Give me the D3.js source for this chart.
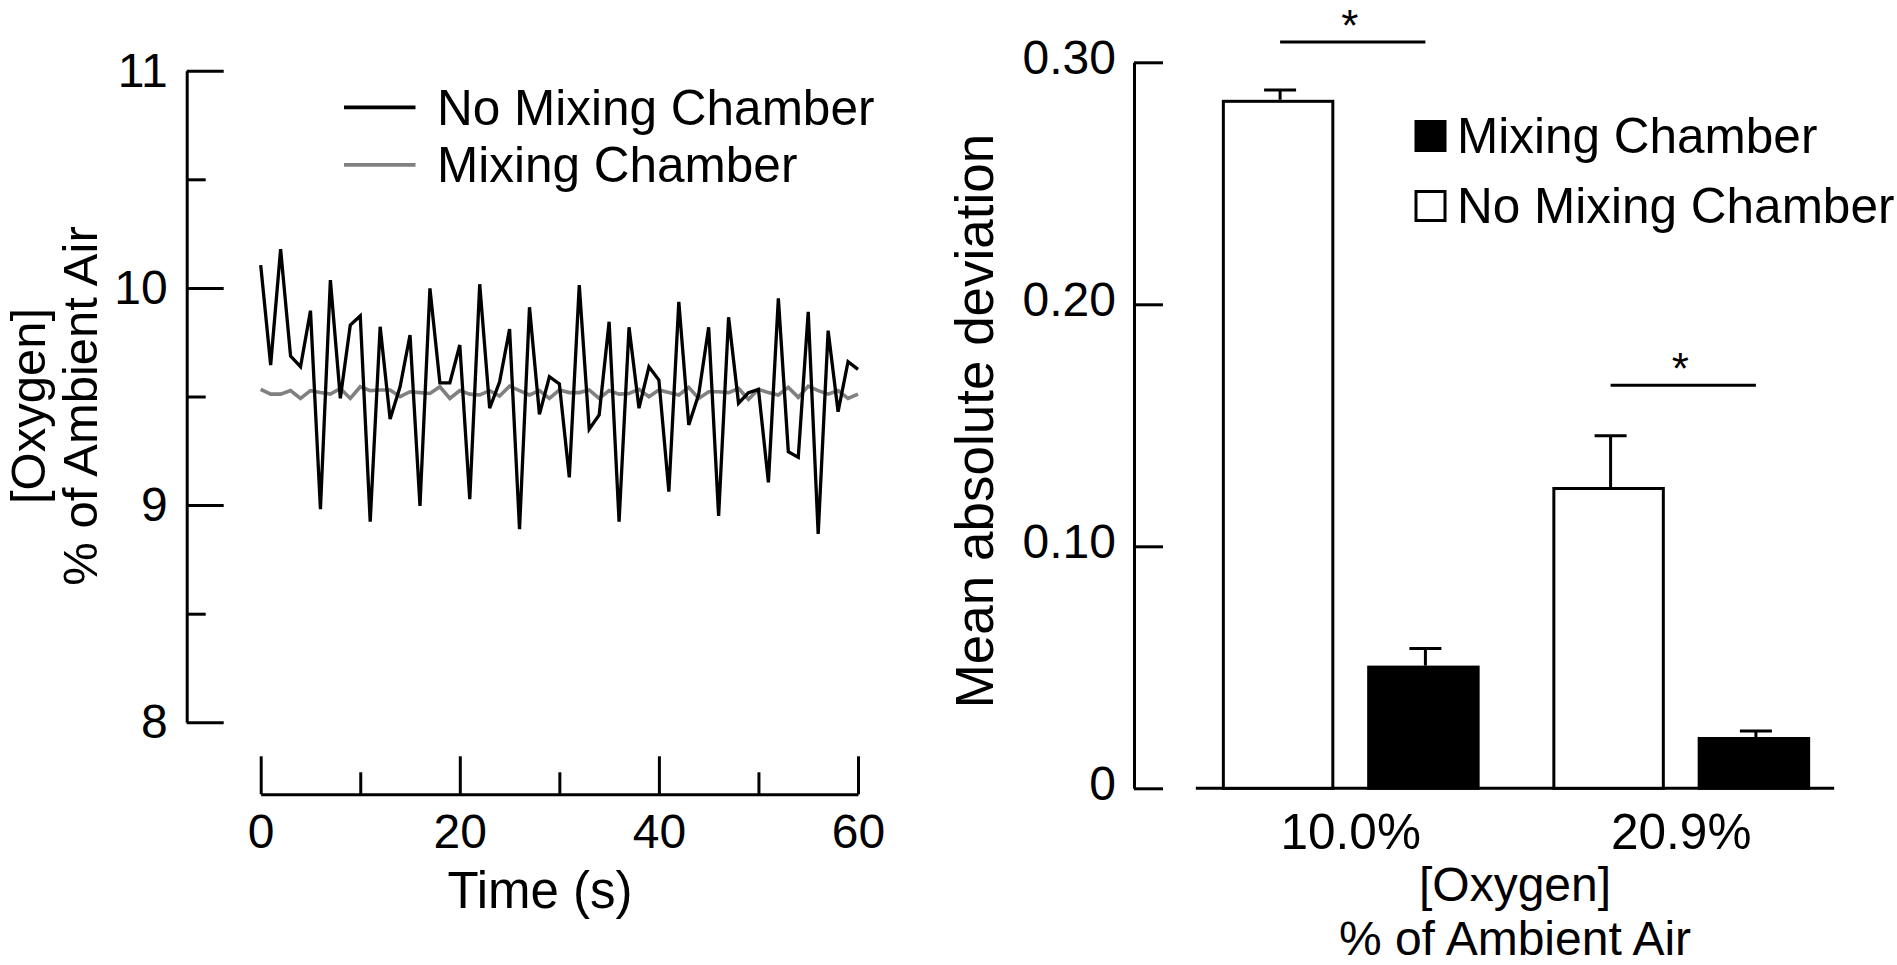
<!DOCTYPE html>
<html>
<head>
<meta charset="utf-8">
<script src="https://cdn.jsdelivr.net/npm/d3@7"></script>
<style>
  html, body { margin: 0; padding: 0; background: #fff; }
  svg { display: block; }
  text { font-family: "Liberation Sans", Arial, sans-serif; fill: #000; }
</style>
</head>
<body>
<svg id="chart" width="1897" height="965"></svg>
<script>
// ---------- DATA ----------
const timeSec = [0,1,2,3,4,5,6,7,8,9,10,11,12,13,14,15,16,17,18,19,20,21,22,23,24,25,26,27,28,29,30,
                 31,32,33,34,35,36,37,38,39,40,41,42,43,44,45,46,47,48,49,50,51,52,53,54,55,56,57,58,59,60];
const noMixingO2 = [10.105,9.645,10.178,9.686,9.637,9.895,8.981,10.036,9.492,9.829,9.871,8.924,9.821,9.396,9.545,
                    9.783,8.996,9.998,9.563,9.563,9.737,9.027,10.017,9.446,9.568,9.81,8.889,9.911,9.418,9.591,9.558,
                    9.128,10.013,9.349,9.415,9.844,8.924,9.819,9.446,9.637,9.576,9.062,9.936,9.369,9.51,9.819,
                    8.95,9.865,9.469,9.518,9.533,9.105,9.952,9.246,9.22,9.89,8.867,9.803,9.43,9.66,9.625];
const mixingO2 = [9.533,9.511,9.511,9.527,9.491,9.527,9.518,9.511,9.537,9.491,9.545,9.527,9.530,9.530,9.499,
                  9.522,9.518,9.514,9.545,9.491,9.527,9.511,9.507,9.527,9.502,9.548,9.527,9.507,9.527,9.491,9.530,
                  9.518,9.518,9.530,9.491,9.527,9.511,9.514,9.533,9.499,9.530,9.518,9.507,9.542,9.491,9.522,
                  9.522,9.518,9.537,9.487,9.533,9.518,9.507,9.542,9.496,9.548,9.527,9.511,9.527,9.491,9.511];
const leftYTicks = [8, 9, 10, 11];
const leftYMinor = [8.5, 9.5, 10.5];
const leftXTicks = [0, 20, 40, 60];
const leftXMinor = [10, 30, 50];
const lineSeries = ["No Mixing Chamber", "Mixing Chamber"];

const o2Categories = ["10.0%", "20.9%"];
const barSeries = ["No Mixing Chamber", "Mixing Chamber"];
const noMixingMAD = [0.2845, 0.1245];
const noMixingErr = [0.0041, 0.0212];
const mixingMAD = [0.0507, 0.0212];
const mixingErr = [0.0071, 0.0025];
const sigLevel = [0.3084, 0.1666];
const sigLabel = ["*", "*"];
const rightYTicks = [0, 0.1, 0.2, 0.3];
const legendBarOrder = ["Mixing Chamber", "No Mixing Chamber"];

// ---------- SETUP ----------
const svg = d3.select("#chart");
const FS = 48;        // tick labels
const FS_LEG = 49.5;  // legends, category labels
const FS_TITLE = 50;  // axis titles
const lineColor = {"No Mixing Chamber": "#000", "Mixing Chamber": "#808080"};

// ---------- LEFT CHART ----------
const xL = d3.scaleLinear().domain([0, 60]).range([260.7, 858]);
const yL = d3.scaleLinear().domain([8, 11]).range([722.3, 70.7]);
const yAxisX = 186.7, xAxisY = 794.3;

function styleAxis(g) {
  g.selectAll("path.domain").attr("stroke", "#000").attr("stroke-width", 3);
  g.selectAll(".tick line").attr("stroke", "#000").attr("stroke-width", 3);
  g.selectAll(".tick text").attr("font-size", FS).attr("font-family", '"Liberation Sans", Arial, sans-serif').attr("fill", "#000");
}

const gLY = svg.append("g").attr("transform", `translate(${yAxisX},0)`)
  .call(d3.axisLeft(yL).tickValues(leftYTicks).tickSizeInner(-37).tickSizeOuter(0).tickPadding(19).tickFormat(d3.format("d")));
styleAxis(gLY);
const gLYm = svg.append("g").attr("transform", `translate(${yAxisX},0)`)
  .call(d3.axisLeft(yL).tickValues(leftYMinor).tickSizeInner(-19).tickSizeOuter(0).tickFormat(""));
gLYm.select("path.domain").remove();
styleAxis(gLYm);

const gLX = svg.append("g").attr("transform", `translate(0,${xAxisY})`)
  .call(d3.axisBottom(xL).tickValues(leftXTicks).tickSizeInner(-38).tickSizeOuter(0).tickPadding(20).tickFormat(d3.format("d")));
styleAxis(gLX);
const gLXm = svg.append("g").attr("transform", `translate(0,${xAxisY})`)
  .call(d3.axisBottom(xL).tickValues(leftXMinor).tickSizeInner(-22).tickSizeOuter(0).tickFormat(""));
gLXm.select("path.domain").remove();
styleAxis(gLXm);

const lineGen = d3.line().x((d, i) => xL(timeSec[i])).y(d => yL(d));
svg.append("path").datum(mixingO2).attr("d", lineGen)
  .attr("fill", "none").attr("stroke", lineColor["Mixing Chamber"]).attr("stroke-width", 3.6).attr("stroke-linejoin", "miter");
svg.append("path").datum(noMixingO2).attr("d", lineGen)
  .attr("fill", "none").attr("stroke", lineColor["No Mixing Chamber"]).attr("stroke-width", 3.3).attr("stroke-linejoin", "miter");

// left legend
const legL = svg.append("g");
lineSeries.forEach((s, i) => {
  const cy = 107.4 + i * 57.5;
  legL.append("line").attr("x1", 344).attr("x2", 415.5).attr("y1", cy).attr("y2", cy)
    .attr("stroke", lineColor[s]).attr("stroke-width", 3.6);
  legL.append("text").attr("x", 437).attr("y", cy).attr("dy", "0.35em")
    .attr("font-size", FS_LEG).text(s);
});

// left axis titles
svg.append("text").attr("transform", "translate(28,406) rotate(-90)")
  .attr("text-anchor", "middle").attr("dy", "0.35em").attr("font-size", 49).text("[Oxygen]");
svg.append("text").attr("transform", "translate(80,406) rotate(-90)")
  .attr("text-anchor", "middle").attr("dy", "0.35em").attr("font-size", 49).text("% of Ambient Air");
svg.append("text").attr("x", 540).attr("y", 890).attr("dy", "0.35em")
  .attr("text-anchor", "middle").attr("font-size", 51).text("Time (s)");

// ---------- RIGHT CHART ----------
const yR = d3.scaleLinear().domain([0, 0.30]).range([788.3, 62.3]);
const rAxisX = 1134;
const xGroup = d3.scaleBand().domain(o2Categories).range([1185.5, 1846.5]).paddingInner(0.22).paddingOuter(0.11);
const xSub = d3.scaleBand().domain(barSeries).range([0, xGroup.bandwidth()]).paddingInner(0.226);

const gRY = svg.append("g").attr("transform", `translate(${rAxisX},0)`)
  .call(d3.axisLeft(yR).tickValues(rightYTicks).tickSizeInner(-29).tickSizeOuter(0).tickPadding(18)
    .tickFormat(d => d === 0 ? "0" : d3.format(".2f")(d)));
styleAxis(gRY);
gRY.selectAll(".tick text").attr("dy", "0.24em");

// baseline
const baseX0 = xGroup(o2Categories[0]) - 26;
const baseX1 = xGroup(o2Categories[1]) + xGroup.bandwidth() + 24;
svg.append("line").attr("x1", baseX0).attr("x2", baseX1).attr("y1", yR(0)).attr("y2", yR(0))
  .attr("stroke", "#000").attr("stroke-width", 3);

const barData = [];
o2Categories.forEach((c, i) => {
  barData.push({cat: c, series: "No Mixing Chamber", v: noMixingMAD[i], e: noMixingErr[i]});
  barData.push({cat: c, series: "Mixing Chamber", v: mixingMAD[i], e: mixingErr[i]});
});
const capW = 32;
barData.forEach(d => {
  const x0 = xGroup(d.cat) + xSub(d.series);
  const w = xSub.bandwidth();
  const cx = x0 + w / 2 + 2;
  svg.append("line").attr("x1", cx).attr("x2", cx).attr("y1", yR(d.v)).attr("y2", yR(d.v + d.e))
    .attr("stroke", "#000").attr("stroke-width", 3);
  svg.append("line").attr("x1", cx - capW / 2).attr("x2", cx + capW / 2).attr("y1", yR(d.v + d.e)).attr("y2", yR(d.v + d.e))
    .attr("stroke", "#000").attr("stroke-width", 3);
  const white = d.series === "No Mixing Chamber";
  svg.append("rect").attr("x", x0 + 1.5).attr("y", yR(d.v) + 1.5)
    .attr("width", w - 3).attr("height", yR(0) - yR(d.v) - 1.5)
    .attr("fill", white ? "#fff" : "#000").attr("stroke", "#000").attr("stroke-width", 3);
});

// significance lines
o2Categories.forEach((c, i) => {
  const xa = xGroup(c) + xSub(barSeries[0]) + xSub.bandwidth() / 2 + 2;
  const xb = xGroup(c) + xSub(barSeries[1]) + xSub.bandwidth() / 2 + 2;
  svg.append("line").attr("x1", xa).attr("x2", xb).attr("y1", yR(sigLevel[i])).attr("y2", yR(sigLevel[i]))
    .attr("stroke", "#000").attr("stroke-width", 3);
  svg.append("text").attr("x", (xa + xb) / 2 - 3).attr("y", yR(sigLevel[i]) - 1)
    .attr("text-anchor", "middle").attr("font-size", 44).text(sigLabel[i]);
});

// category labels
o2Categories.forEach(c => {
  svg.append("text").attr("x", xGroup(c) + xGroup.bandwidth() / 2).attr("y", 832).attr("dy", "0.35em")
    .attr("text-anchor", "middle").attr("font-size", FS_LEG).text(c);
});

// right legend
legendBarOrder.forEach((s, i) => {
  const cy = 136 + i * 70;
  const white = s === "No Mixing Chamber";
  svg.append("rect").attr("x", 1416).attr("y", cy - 14.5).attr("width", 29).attr("height", 29)
    .attr("fill", white ? "#fff" : "#000").attr("stroke", "#000").attr("stroke-width", 3);
  svg.append("text").attr("x", 1457).attr("y", cy).attr("dy", "0.35em").attr("font-size", FS_LEG).text(s);
});

// right axis titles
svg.append("text").attr("transform", "translate(974,421) rotate(-90)")
  .attr("text-anchor", "middle").attr("dy", "0.35em").attr("font-size", 53).text("Mean absolute deviation");
const midR = (baseX0 + baseX1) / 2;
svg.append("text").attr("x", midR).attr("y", 884).attr("dy", "0.35em")
  .attr("text-anchor", "middle").attr("font-size", 48).text("[Oxygen]");
svg.append("text").attr("x", midR).attr("y", 938).attr("dy", "0.35em")
  .attr("text-anchor", "middle").attr("font-size", 48).text("% of Ambient Air");
</script>
</body>
</html>
